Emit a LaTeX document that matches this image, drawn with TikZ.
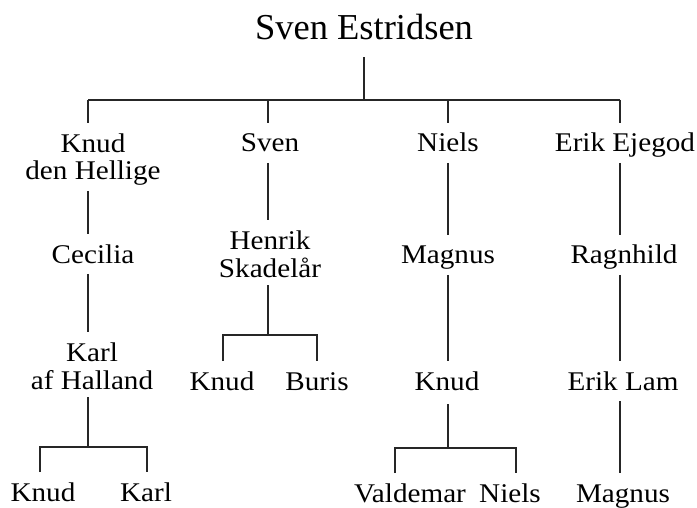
\documentclass[tikz,border=0pt]{standalone}
\usepackage{fontspec}
\setmainfont{Liberation Serif}
\newfontfamily\namefont{Liberation Serif}[FakeStretch=1.08]
\begin{document}
\begin{tikzpicture}[x=1pt,y=-1pt,
  person/.style={font=\namefont\fontsize{27}{28}\selectfont, align=center, inner sep=0pt, outer sep=0pt, anchor=base},
  one/.style={text height=19pt, text depth=6pt},
  title/.style={font=\fontsize{36.5}{40}\selectfont, inner sep=0pt, outer sep=0pt, anchor=base},
  link/.style={line width=1.3pt, draw=black!85},
  down/.style={link, shorten <=5pt, shorten >=10pt},
  tojoin/.style={link, shorten <=8pt},
  fromjoin/.style={link, shorten >=10pt},
  bracket/.style={link, shorten <=10pt, shorten >=10pt}]
\useasboundingbox (0,0) rectangle (697,508);
% title
\node[title] (root) at (364,40) {Sven Estridsen};
% generation 1
\node[person] (knudH) at (93,180) {Knud\\den Hellige};
\node[person, one] (sven) at (270,152) {Sven};
\node[person, one] (niels) at (448,152) {Niels};
\node[person, one] (erikE) at (625,152) {Erik Ejegod};
% generation 2
\node[person, one] (cecilia) at (93,263) {Cecilia};
\node[person] (henrik) at (270,277) {Henrik\\Skadelår};
\node[person, one] (magnus) at (448,264) {Magnus};
\node[person, one] (ragnhild) at (624,264) {Ragnhild};
% generation 3
\node[person] (karlH) at (92,389) {Karl\\af Halland};
\node[person, one] (knudB) at (222,390) {Knud};
\node[person, one] (buris) at (317,390) {Buris};
\node[person, one] (knudC) at (447,390) {Knud};
\node[person, one] (erikL) at (623,390) {Erik Lam};
% generation 4
\node[person, one] (knudA) at (43,501) {Knud};
\node[person, one] (karlA) at (146,501) {Karl};
\node[person, one] (valdemar) at (410,502) {Valdemar};
\node[person, one] (nielsC) at (510,502) {Niels};
\node[person, one] (magnusD) at (623,502) {Magnus};
% junction coordinates
\coordinate (colA) at (88,100);
\coordinate (colB) at (268,100);
\coordinate (colC) at (448,100);
\coordinate (colD) at (620,100);
\coordinate (bBL) at (223,335);
\coordinate (bBR) at (317,335);
\coordinate (bAL) at (40,447);
\coordinate (bAR) at (147,447);
\coordinate (bCL) at (395,448);
\coordinate (bCR) at (516,448);
% top bar
\draw[link, shorten <=17pt] (root.south) -- (root.south |- colA);
\draw[link] (colA) -- (colD);
\draw[fromjoin] (colA) -- (knudH.north -| colA);
\draw[fromjoin] (colB) -- (sven.north -| colB);
\draw[fromjoin] (colC) -- (niels.north -| colC);
\draw[fromjoin] (colD) -- (erikE.north -| colD);
% column A
\draw[down] (knudH.south -| colA) -- (cecilia.north -| colA);
\draw[down] (cecilia.south -| colA) -- (karlH.north -| colA);
\draw[tojoin] (karlH.south -| colA) -- (colA |- bAL);
\draw[bracket] (knudA.north -| bAL) -- (bAL) -- (bAR) -- (karlA.north -| bAR);
% column B
\draw[down] (sven.south -| colB) -- (henrik.north -| colB);
\draw[tojoin] (henrik.south -| colB) -- (colB |- bBL);
\draw[bracket] (knudB.north -| bBL) -- (bBL) -- (bBR) -- (buris.north -| bBR);
% column C
\draw[down] (niels.south -| colC) -- (magnus.north -| colC);
\draw[down] (magnus.south -| colC) -- (knudC.north -| colC);
\draw[tojoin] (knudC.south -| colC) -- (colC |- bCL);
\draw[bracket] (valdemar.north -| bCL) -- (bCL) -- (bCR) -- (nielsC.north -| bCR);
% column D
\draw[down] (erikE.south -| colD) -- (ragnhild.north -| colD);
\draw[down] (ragnhild.south -| colD) -- (erikL.north -| colD);
\draw[down] (erikL.south -| colD) -- (magnusD.north -| colD);
\end{tikzpicture}
\end{document}
